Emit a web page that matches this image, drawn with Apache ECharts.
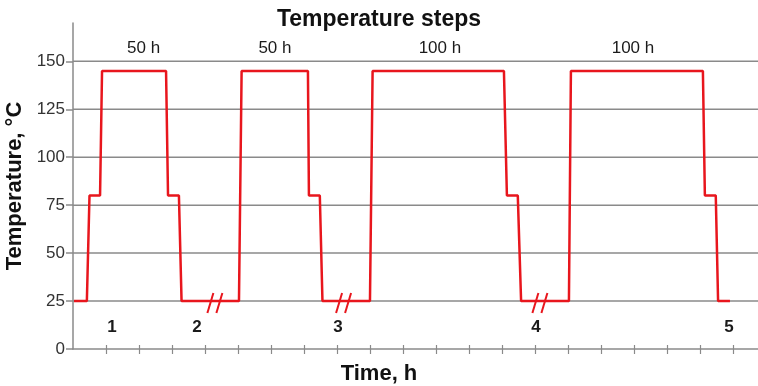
<!DOCTYPE html>
<html>
<head>
<meta charset="utf-8">
<script src="https://cdn.jsdelivr.net/npm/echarts@6/dist/echarts.min.js"></script>
<style>
  html, body { margin: 0; padding: 0; background: #fff; }
  #chart { width: 758px; height: 386px; }
</style>
</head>
<body>
<div id="chart"></div>
<script>
// profile, x in tick units (axis is broken between cycles)
var stepX = [0.03, 0.42, 0.5, 0.82, 0.88, 2.82, 2.88, 3.21, 3.29, 5.03, 5.11, 7.12, 7.15, 7.48,
  7.56, 9.0, 9.08, 13.06, 13.15, 13.48, 13.58, 15.03, 15.09, 19.09, 19.15, 19.48, 19.55, 19.91];
var stepTemp = [25, 25, 80, 80, 145, 145, 80, 80, 25, 25, 145, 145, 80, 80,
  25, 25, 145, 145, 80, 80, 25, 25, 145, 145, 80, 80, 25, 25];

var yTicks = [0, 25, 50, 75, 100, 125, 150];
var yGrid = [25, 50, 75, 100, 125, 150];
var xTicks = [1, 2, 3, 4, 5, 6, 7, 8, 9, 10, 11, 12, 13, 14, 15, 16, 17, 18, 19, 20];

var cycleLabels = ['50 h', '50 h', '100 h', '100 h'];
var cycleLabelX = [2.14, 6.12, 11.12, 16.97];
var cycleLabelY = 157;

var stageNames = ['1', '2', '3', '4', '5'];
var stageX = [1.18, 3.76, 8.03, 14.03, 19.88];
var stageY = 11.5;

var breakX = [4.3, 8.2, 14.15];
var breakLevel = 25;

var RED = '#e8161d';
var GRAY = '#8a8a8a';
var FONT = 'Liberation Sans, Arial, sans-serif';

var chart = echarts.init(document.getElementById('chart'));

var xBase = {
  type: 'value',
  min: 0,
  max: 20.76,
  interval: 1,
  position: 'bottom',
  axisLabel: { show: false },
  splitLine: { show: false }
};

function textLabel(bold) {
  return {
    show: true,
    position: 'inside',
    formatter: function (p) { return p.data[2]; },
    fontFamily: FONT,
    fontSize: 17,
    fontWeight: bold ? 'bold' : 'normal',
    color: '#1a1a1a',
    textBorderWidth: 0,
    opacity: 1
  };
}

chart.setOption({
  animation: false,
  textStyle: { fontFamily: FONT },
  title: [
    {
      text: 'Temperature steps',
      left: 'center',
      top: 3,
      textStyle: { fontFamily: FONT, fontSize: 23, fontWeight: 'bold', color: '#111' }
    },
    {
      text: 'Time, h',
      left: 'center',
      top: 358,
      textStyle: { fontFamily: FONT, fontSize: 22, fontWeight: 'bold', color: '#111' }
    }
  ],
  grid: { left: 73, right: 0, top: 23, bottom: 37, outerBoundsMode: 'none', containLabel: false },
  xAxis: [
    Object.assign({}, xBase, {
      axisLine: { show: true, lineStyle: { color: GRAY, width: 1.5 } },
      axisTick: { show: true, customValues: xTicks, length: 5, lineStyle: { color: GRAY, width: 1.2 } }
    }),
    Object.assign({}, xBase, {
      axisLine: { show: false },
      axisTick: { show: true, inside: true, customValues: xTicks, length: 4, lineStyle: { color: GRAY, width: 1.2 } }
    })
  ],
  yAxis: {
    type: 'value',
    min: 0,
    max: 170,
    interval: 25,
    name: 'Temperature, °C',
    nameLocation: 'middle',
    nameGap: 43,
    nameTextStyle: { fontFamily: FONT, fontSize: 22, fontWeight: 'bold', color: '#111' },
    axisLine: { show: true, lineStyle: { color: GRAY, width: 1.5 } },
    axisTick: { show: true, customValues: yTicks, length: 7, lineStyle: { color: GRAY, width: 1.5 } },
    axisLabel: { customValues: yTicks, fontSize: 17, color: '#333', margin: 8 },
    splitLine: { show: false }
  },
  series: [
    {
      // horizontal grid lines
      type: 'custom',
      z: 1,
      silent: true,
      data: yGrid.map(function (v) { return [0, v]; }),
      renderItem: function (params, api) {
        var y = api.coord([0, api.value(1)])[1];
        var cs = params.coordSys;
        return {
          type: 'line',
          shape: { x1: cs.x, y1: y, x2: cs.x + cs.width, y2: y },
          style: { stroke: GRAY, lineWidth: 1.5 }
        };
      }
    },
    {
      name: 'Temperature',
      type: 'line',
      z: 3,
      symbol: 'none',
      data: stepX.map(function (x, i) { return [x, stepTemp[i]]; }),
      lineStyle: { color: RED, width: 2.5 }
    },
    {
      // axis break marks "//"
      type: 'custom',
      z: 4,
      silent: true,
      data: breakX.map(function (x) { return [x, breakLevel]; }),
      renderItem: function (params, api) {
        var p = api.coord([api.value(0), api.value(1)]);
        return {
          type: 'group',
          children: [-4.5, 4.5].map(function (dx) {
            return {
              type: 'line',
              shape: { x1: p[0] + dx - 3, y1: p[1] + 12, x2: p[0] + dx + 3, y2: p[1] - 8 },
              style: { stroke: RED, lineWidth: 2 }
            };
          })
        };
      }
    },
    {
      type: 'scatter',
      z: 5,
      silent: true,
      symbolSize: 1,
      itemStyle: { color: '#fff', opacity: 0 },
      data: cycleLabelX.map(function (x, i) { return [x, cycleLabelY, cycleLabels[i]]; }),
      label: textLabel(false)
    },
    {
      type: 'scatter',
      z: 5,
      silent: true,
      symbolSize: 1,
      itemStyle: { color: '#fff', opacity: 0 },
      data: stageX.map(function (x, i) { return [x, stageY, stageNames[i]]; }),
      label: textLabel(true)
    }
  ]
});
</script>
</body>
</html>
